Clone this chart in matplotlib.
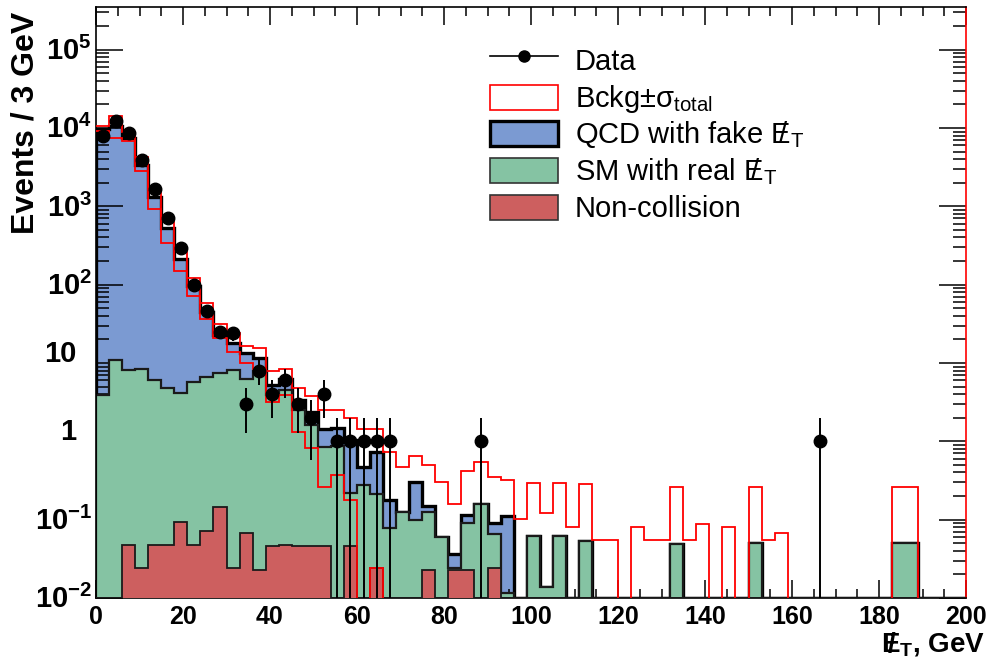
import numpy as np
import matplotlib
matplotlib.use("Agg")
from matplotlib import pyplot as plt
from matplotlib import transforms as mtransforms
from matplotlib.patches import Patch, Rectangle
from matplotlib.lines import Line2D
from matplotlib.legend_handler import HandlerPatch
from matplotlib.ticker import LogLocator, NullFormatter, MultipleLocator

plt.rcParams['font.family'] = ['Liberation Sans', 'DejaVu Sans']
plt.rcParams['mathtext.fontset'] = 'custom'
plt.rcParams['mathtext.rm'] = 'Liberation Sans'
plt.rcParams['mathtext.bf'] = 'Liberation Sans:bold'
plt.rcParams['mathtext.it'] = 'Liberation Sans:italic'

bin_width = 3
edges = np.arange(68) * bin_width
centers = edges[:-1] + bin_width / 2

# per-bin contributions, 3 GeV bins from 0 to 201 GeV
noncoll = [0, 0, 0.0475, 0.024, 0.0475, 0.0475, 0.094, 0.0475, 0.072, 0.144,
           0.024, 0.068, 0.023, 0.046, 0.0475, 0.046, 0.046, 0.046, 0, 0.046,
           0, 0.024, 0, 0, 0, 0.023, 0, 0.023, 0.023, 0,
           0.024] + [0] * 36
sm_real = [3.9, 11, 8.15, 8.28, 5.95, 4.75, 4.1, 5.75, 6.63, 7.26,
           8.18, 6.23, 7.98, 3.85, 4.45, 2.45, 1.55, 0.81, 0.86, 0.17,
           0.277, 0.19, 0.078, 0.125, 0.099, 0.101, 0.06, 0.001, 0.067, 0.159,
           0.042, 0.0115, 0, 0.062, 0.0139, 0.062, 0, 0.053, 0, 0,
           0, 0, 0, 0, 0.049, 0, 0, 0, 0, 0,
           0.05, 0, 0, 0, 0, 0, 0, 0, 0, 0,
           0, 0.05, 0.05, 0, 0, 0, 0]
qcd_fake = [9700, 10490, 7390, 3390, 1324, 522, 208, 89, 38.3, 15.6,
            9.7, 7.1, 3.5, 1.3, 1.7, 0.9, 0.8, 0.56, 0.64, 0.82,
            0.20, 0.52, 0.10, 0, 0.206, 0.026, 0, 0.012, 0.026, 0,
            0.024, 0.10] + [0] * 35

# total background +- sigma (upper / lower edge of the band)
bckg_hi = [10700, 14300, 8800, 4250, 1660, 707, 284, 120, 58, 31.5,
           24, 16.5, 15.5, 7.8, 8.3, 4.76, 3.8, 2.5, 2.5, 1.97,
           1.43, 1.43, 0.74, 0.475, 0.65, 0.50, 0.305, 0.159, 0.42, 0.55,
           0.35, 0.32, 0.101, 0.296, 0.123, 0.296, 0.080, 0.286, 0.055, 0.055,
           0, 0.080, 0.055, 0.055, 0.264, 0.055, 0.088, 0, 0.080, 0,
           0.264, 0.055, 0.067, 0, 0, 0, 0, 0, 0, 0,
           0, 0.264, 0.264, 0, 0, 0, 0]
bckg_lo = [9200, 7500, 6900, 2860, 920, 345, 151, 72, 36, 20.8,
           14, 10, 8.5, 3.2, 3.9, 1.3, 0.82, 0.26, 0.37, 0.18,
           0, 0.024] + [0] * 45

data = [7800, 12400, 8600, 3850, 1670, 710, 290, 100, 46, 25,
        24, 3, 8, 4, 6, 3, 2, 4, 1, 1,
        1, 1, 1, 0, 0, 0, 0, 0, 0, 1] + [0] * 25 + [1] + [0] * 11

ytick_vals = [1e-2, 1e-1, 1, 10, 1e2, 1e3, 1e4, 1e5]
ytick_text = [r'$\mathbf{10^{-2}}$', r'$\mathbf{10^{-1}}$', '1', '10',
              r'$\mathbf{10^{2}}$', r'$\mathbf{10^{3}}$', r'$\mathbf{10^{4}}$',
              r'$\mathbf{10^{5}}$']

ymin, ymax = 0.01, 3.5e5
c_blue, c_green, c_red = '#7b9ad2', '#85c3a3', '#cd5f5f'

nc = np.array(noncoll)
green_top = nc + np.array(sm_real)
total = green_top + np.array(qcd_fake)
floor = lambda a, f=ymin: np.maximum(a, f)

fig = plt.figure(figsize=(9.89, 6.62), dpi=100)
ax = fig.add_axes([96 / 989, 1 - 598 / 662, (966 - 96) / 989, (598 - 7) / 662])
ax.set_yscale('log')

ax.stairs(floor(total), edges, baseline=1e-6, fill=True, facecolor=c_blue,
          edgecolor='black', linewidth=2.4, zorder=1)
ax.stairs(floor(green_top), edges, baseline=1e-6, fill=True, facecolor=c_green,
          edgecolor='#1a1a1a', linewidth=1.6, zorder=2)
ax.stairs(floor(nc), edges, baseline=1e-6, fill=True, facecolor=c_red,
          edgecolor='#1a1a1a', linewidth=1.3, zorder=3)

# background uncertainty band: upper and lower step lines
ax.stairs(floor(np.array(bckg_hi), 1e-4), edges, baseline=None,
          color='red', linewidth=1.3, zorder=4)
ax.stairs(floor(np.array(bckg_lo), 1e-4), edges, baseline=None,
          color='red', linewidth=1.3, zorder=4)

d = np.array(data, dtype=float)
m = d > 0
err_lo = d[m] - np.maximum(d[m] - np.sqrt(d[m]), 1e-4)
err_hi = np.sqrt(d[m])
ax.errorbar(centers[m], d[m], yerr=[err_lo, err_hi], fmt='o', color='black',
            ms=9, elinewidth=1.4, capsize=0, zorder=5)

ax.set_xlim(0, 200)
ax.set_ylim(ymin, ymax)

ax.xaxis.set_major_locator(MultipleLocator(20))
ax.xaxis.set_minor_locator(MultipleLocator(5))
ax.yaxis.set_major_locator(LogLocator(base=10, numticks=20))
ax.yaxis.set_minor_locator(LogLocator(base=10, subs=np.arange(2, 10), numticks=20))
ax.yaxis.set_major_formatter(NullFormatter())
ax.yaxis.set_minor_formatter(NullFormatter())

ax.tick_params(axis='both', which='both', direction='in', top=True, right=True,
               width=1.1, labelsize=18)
ax.tick_params(axis='x', which='major', length=13, pad=5)
ax.tick_params(axis='x', which='minor', length=6.5)
ax.tick_params(axis='y', which='major', length=19.5, labelleft=False)
ax.tick_params(axis='y', which='minor', length=9.5)
for lab in ax.get_xticklabels():
    lab.set_fontweight('bold')
for sp in ax.spines.values():
    sp.set_linewidth(1.2)
ax.spines['right'].set_color('red')

# ROOT-like y labels: exponent labels centred on the base, plain ones a bit higher
ytrans = ax.get_yaxis_transform()
for v, t in zip(ytick_vals, ytick_text):
    if t.startswith('$'):
        tr = mtransforms.offset_copy(ytrans, fig=fig, x=-3, y=-7.5, units='points')
        ax.text(0, v, t, transform=tr, ha='right', va='baseline',
                fontsize=21, fontweight='bold')
    else:
        tr = mtransforms.offset_copy(ytrans, fig=fig, x=-14, y=6.5, units='points')
        ax.text(0, v, t, transform=tr, ha='right', va='center',
                fontsize=21, fontweight='bold')

fig.text(26 / 989, 1 - 12 / 662, 'Events / 3 GeV', rotation=90, ha='center',
         va='top', fontsize=23, fontweight='bold')
fig.text(985 / 989, 1 - 644 / 662,
         r'$\mathbf{E}\!\!\!\mathbf{/}\,{}_\mathbf{T}$, GeV', ha='right',
         va='center', fontsize=20, fontweight='bold')


def small_box(legend, orig_handle, xdescent, ydescent, width, height, fontsize):
    h = 0.86 * fontsize
    return Rectangle((-xdescent, -ydescent + (height - h) / 2), width, h)


handles = [
    Line2D([0], [0], color='black', lw=1.2, marker='o', ms=8),
    Patch(facecolor='white', edgecolor='red', linewidth=1.2),
    Patch(facecolor=c_blue, edgecolor='black', linewidth=2.4),
    Patch(facecolor=c_green, edgecolor='#333333', linewidth=1.2),
    Patch(facecolor=c_red, edgecolor='#333333', linewidth=1.2),
]
labels = ['Data', 'Bckg\u00b1\u03c3$_\\mathregular{total}$',
          r'QCD with fake $\mathregular{E}\!\!\!\mathregular{/}\,{}_\mathregular{T}$',
          r'SM with real $\mathregular{E}\!\!\!\mathregular{/}\,{}_\mathregular{T}$',
          'Non-collision']
fig.legend(handles, labels, loc='upper left',
           bbox_to_anchor=(490 / 989, 1 - 42 / 662), frameon=False,
           fontsize=21, handlelength=2.33, handleheight=1.56,
           handletextpad=0.58, labelspacing=0.0, borderpad=0,
           borderaxespad=0, handler_map={Patch: HandlerPatch(patch_func=small_box)})

fig.savefig('out.png', dpi=100)
